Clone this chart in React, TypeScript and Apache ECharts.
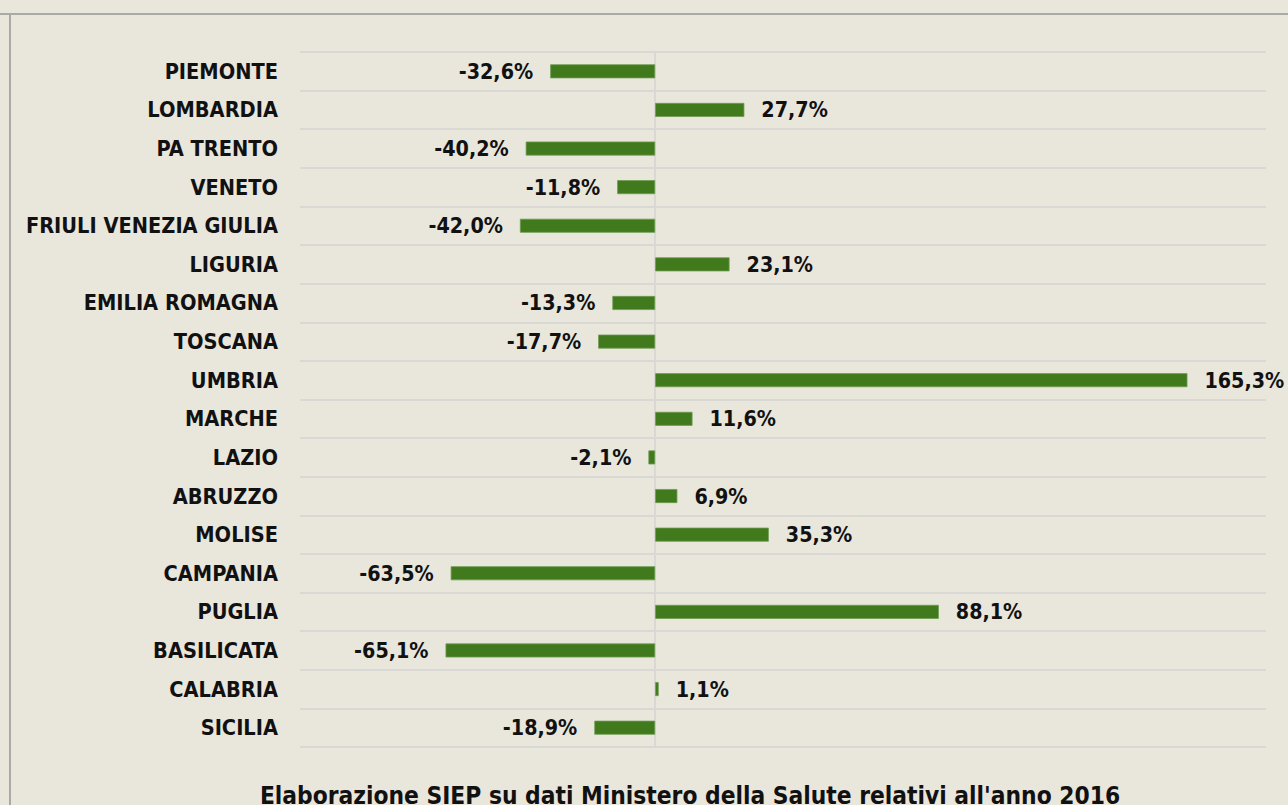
import React, { useEffect, useRef } from "react";
import * as echarts from "echarts";

const categories = [
  "PIEMONTE", "LOMBARDIA", "PA TRENTO", "VENETO", "FRIULI VENEZIA GIULIA",
  "LIGURIA", "EMILIA ROMAGNA", "TOSCANA", "UMBRIA", "MARCHE", "LAZIO",
  "ABRUZZO", "MOLISE", "CAMPANIA", "PUGLIA", "BASILICATA", "CALABRIA", "SICILIA",
];
const values = [
  -32.6, 27.7, -40.2, -11.8, -42.0, 23.1, -13.3, -17.7, 165.3, 11.6, -2.1,
  6.9, 35.3, -63.5, 88.1, -65.1, 1.1, -18.9,
];
const sourceNote = "Elaborazione SIEP su dati Ministero della Salute relativi all'anno 2016";

const FONT = "'DejaVu Sans Condensed', 'DejaVu Sans', sans-serif";

export default function App() {
  const ref = useRef<HTMLDivElement>(null);
  useEffect(() => {
    if (!ref.current) return;
    const chart = echarts.init(ref.current, null, { renderer: "svg" });
    chart.setOption({
      animation: false,
      backgroundColor: "#e9e6dc",
      grid: { left: 300, right: 22, top: 52, bottom: 58, containLabel: false },
      xAxis: {
        type: "value",
        min: -110.3,
        max: 189.7,
        show: false,
        splitLine: { show: false },
      },
      yAxis: {
        type: "category",
        data: categories,
        inverse: true,
        axisLine: { show: false },
        axisTick: { show: false },
        splitLine: { show: true, lineStyle: { color: "#d9d8d4", width: 2 } },
        axisLabel: {
          color: "#111",
          fontFamily: FONT,
          fontWeight: "bold",
          fontSize: 21.6,
          margin: 22,
        },
      },
      graphic: [
        { type: "line", shape: { x1: 0, y1: 14, x2: 1288, y2: 14 }, style: { stroke: "#a9a9a7", lineWidth: 2 } },
        { type: "line", shape: { x1: 10, y1: 14, x2: 10, y2: 805 }, style: { stroke: "#a9a9a7", lineWidth: 2 } },
        { type: "line", shape: { x1: 655, y1: 52, x2: 655, y2: 747 }, style: { stroke: "#d9d8d4", lineWidth: 2 }, z: 1 },
        {
          type: "text",
          x: 690,
          y: 783,
          style: {
            text: sourceNote,
            font: `bold 24.3px ${FONT}`,
            fill: "#111",
            textAlign: "center",
            textVerticalAlign: "top",
          },
        },
      ],
      series: [
        {
          type: "bar",
          data: values,
          barWidth: 14,
          z: 3,
          itemStyle: { color: "#417a1d", borderColor: "#6f9a50", borderWidth: 0.8 },
          label: {
            show: true,
            position: "outside",
            formatter: (p: any) => p.value.toFixed(1).replace(".", ",") + "%",
            color: "#111",
            fontFamily: FONT,
            fontWeight: "bold",
            fontSize: 21.3,
            distance: 17,
          },
        },
      ],
    });
    return () => chart.dispose();
  }, []);
  return (
    <div
      ref={ref}
      style={{ position: "fixed", left: 0, top: 0, width: 1288, height: 805 }}
    />
  );
}
